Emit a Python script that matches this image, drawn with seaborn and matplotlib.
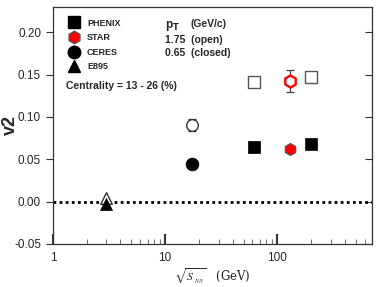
import matplotlib
matplotlib.use("Agg")
import matplotlib.pyplot as plt
from matplotlib.lines import Line2D
from matplotlib.ticker import LogLocator, NullFormatter, FixedLocator
import seaborn as sns
import pandas as pd

# -------------------- Data --------------------
e895_x = [3.0]
e895_open = [0.004]
e895_closed = [-0.003]

ceres_x = [17.3]
ceres_open = [0.090]
ceres_open_err = [0.007]
ceres_closed = [0.045]

phenix_x = [62.4, 200.0]
phenix_open = [0.141, 0.147]
phenix_closed = [0.065, 0.068]

star_x = [130.0]
star_open = [0.143]
star_open_err = [0.013]
star_closed = [0.062]
star_closed_err = [0.003]

xticks = [1, 10, 100]
yticks = [-0.05, 0.00, 0.05, 0.10, 0.15, 0.20]

# -------------------- Plot --------------------
sns.set_style("white")
plt.rcParams["font.family"] = ["Liberation Sans", "DejaVu Sans"]

fig = plt.figure(figsize=(3.86, 2.87), dpi=100)
ax = fig.add_axes([0.137, 0.150, 0.827, 0.826])
ax.set_xscale("log")

# zero line
ax.axhline(0, color="black", linestyle=(0, (1, 1.2)), lw=2, zorder=1)

# error bars
ax.errorbar(ceres_x, ceres_open, yerr=ceres_open_err, fmt="none",
            ecolor="#333333", elinewidth=0.9, capsize=3, capthick=0.9, zorder=2)
ax.errorbar(star_x, star_open, yerr=star_open_err, fmt="none",
            ecolor="#444444", elinewidth=0.9, capsize=3, capthick=0.9, zorder=2)
ax.errorbar(star_x, star_closed, yerr=star_closed_err, fmt="none",
            ecolor="#444444", elinewidth=0.9, capsize=3, capthick=0.9, zorder=2)

def pts(x, y):
    return pd.DataFrame({"x": x, "y": y})

# closed markers
sns.scatterplot(data=pts(phenix_x, phenix_closed), x="x", y="y", marker="s",
                s=80, color="black", edgecolor="black", linewidth=0.5, ax=ax, zorder=3)
sns.scatterplot(data=pts(ceres_x, ceres_closed), x="x", y="y", marker="o",
                s=85, color="black", edgecolor="black", linewidth=0.5, ax=ax, zorder=3)
sns.scatterplot(data=pts(e895_x, e895_closed), x="x", y="y", marker="^",
                s=75, color="black", edgecolor="black", linewidth=0.5, ax=ax, zorder=3)
sns.scatterplot(data=pts(star_x, star_closed), x="x", y="y", marker="h",
                s=75, color="red", edgecolor="#555555", linewidth=0.8, ax=ax, zorder=3)

# open markers
sns.scatterplot(data=pts(phenix_x, phenix_open), x="x", y="y", marker="s",
                s=75, facecolor="white", edgecolor="#555555", linewidth=1.0, ax=ax, zorder=3)
sns.scatterplot(data=pts(ceres_x, ceres_open), x="x", y="y", marker="o",
                s=70, facecolor="white", edgecolor="#333333", linewidth=1.0, ax=ax, zorder=3)
sns.scatterplot(data=pts(e895_x, e895_open), x="x", y="y", marker="^",
                s=70, facecolor="white", edgecolor="#333333", linewidth=1.0, ax=ax, zorder=2.5)
sns.scatterplot(data=pts(star_x, star_open), x="x", y="y", marker="h",
                s=75, facecolor="white", edgecolor="red", linewidth=1.7, ax=ax, zorder=3)

# axes limits & ticks
ax.set_xlim(1, 700)
ax.set_ylim(-0.05, 0.23)
ax.xaxis.set_major_locator(FixedLocator(xticks))
ax.set_xticklabels([str(t) for t in xticks])
ax.xaxis.set_minor_locator(LogLocator(base=10, subs=range(2, 10)))
ax.xaxis.set_minor_formatter(NullFormatter())
ax.set_yticks(yticks)
ax.set_yticklabels([f"{t:.2f}" for t in yticks])

ax.tick_params(axis="x", which="major", direction="in", length=7, width=1.5,
               labelsize=8.5, bottom=True, top=False, pad=6, color="#333333")
ax.tick_params(axis="x", which="minor", direction="in", length=3.5, width=0.6,
               bottom=True, top=False, color="#555555")
ax.tick_params(axis="y", which="major", direction="out", length=5, width=0.8,
               labelsize=8.5, left=True, right=False, color="#333333")
sec = ax.secondary_yaxis("right")
sec.set_yticks(yticks)
sec.tick_params(direction="in", length=5, width=0.8, right=True,
                labelright=False, color="#333333")
sec.spines["right"].set_visible(False)

for sp in ax.spines.values():
    sp.set_linewidth(0.9)
    sp.set_color("#333333")

ax.set_xlabel(r"$\sqrt{S_{\ {}_{NN}}}$   (GeV)", fontsize=8.5,
              math_fontfamily="stix", family="DejaVu Serif", labelpad=1)
ax.set_ylabel("v2", fontsize=13, fontweight="bold")
ax.yaxis.set_label_coords(-0.105, 0.5)

# legend
handles = [
    Line2D([], [], marker="s", color="black", linestyle="none", markersize=8),
    Line2D([], [], marker="h", markerfacecolor="red", markeredgecolor="#555555",
           linestyle="none", markersize=9),
    Line2D([], [], marker="o", color="black", linestyle="none", markersize=9),
    Line2D([], [], marker="^", color="black", linestyle="none", markersize=8),
]
labels = ["PHENIX", "STAR", "CERES", "E895"]
leg = ax.legend(handles, labels, loc="upper left", bbox_to_anchor=(0.025, 0.985),
                frameon=False, handlelength=1.2, handletextpad=0.8,
                labelspacing=0.62, prop={"size": 6.5, "weight": "bold"})

ax.text(0.04, 0.667, "Centrality = 13 - 26 (%)", transform=ax.transAxes,
        fontsize=7.5, fontweight="bold", va="center")
ax.text(0.35, 0.918, r"p$_\mathbf{T}$", transform=ax.transAxes,
        fontsize=8.5, fontweight="bold", va="center")
ax.text(0.43, 0.927, "(GeV/c)", transform=ax.transAxes,
        fontsize=7.5, fontweight="bold", va="center")
ax.text(0.35, 0.862, "1.75  (open)", transform=ax.transAxes,
        fontsize=7.5, fontweight="bold", va="center")
ax.text(0.35, 0.805, "0.65  (closed)", transform=ax.transAxes,
        fontsize=7.5, fontweight="bold", va="center")

fig.savefig("out.png", dpi=100)
